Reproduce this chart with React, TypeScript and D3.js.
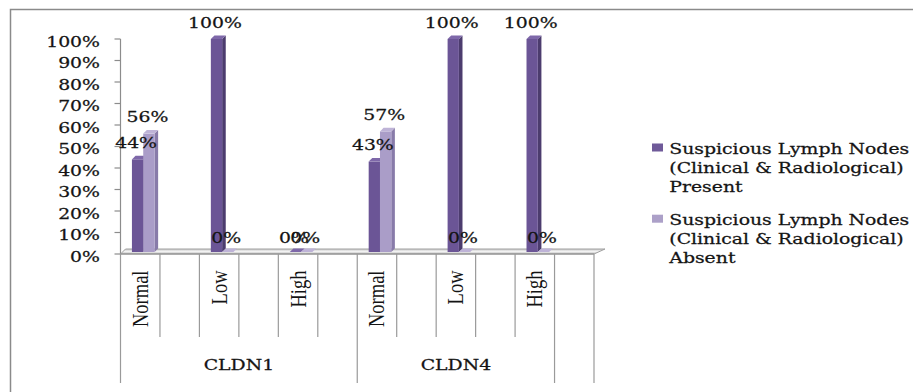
import React from "react";
import * as d3 from "d3";

// Category structure along the x axis (blank slots separate the levels)
const groups = ["CLDN1", "CLDN4", ""];
const groupSlots = [6, 5, 1];
const slotLabels = ["Normal", "", "Low", "", "High", "", "Normal", "", "Low", "", "High", ""];
const slotValueIndex = [0, -1, 1, -1, 2, -1, 3, -1, 4, -1, 5, -1];

// Series values (%) for Normal/Low/High of CLDN1 then CLDN4
const seriesNames = [
  ["Suspicious Lymph Nodes", "(Clinical & Radiological)", "Present"],
  ["Suspicious Lymph Nodes", "(Clinical & Radiological)", "Absent"],
];
const presentValues = [44, 100, 0, 43, 100, 100];
const absentValues = [56, 0, 0, 57, 0, 0];
const yTicks = [0, 10, 20, 30, 40, 50, 60, 70, 80, 90, 100];

const W = 913;
const H = 392;
const SX = 1.3; // horizontal text stretch
const FONT = "'DejaVu Serif', serif";
const ROT_FONT = "'Liberation Serif', 'Times New Roman', serif";
const INK = "#141414";

const palette = [
  { front: "#6B5596", side: "#4C3C6E", top: "#7E68A9", key: "#6F5A99" },
  { front: "#AA9DC8", side: "#887BA9", top: "#BEB3D7", key: "#ACA0C8" },
];

function T({ x, y, anchor = "middle", size = 14.5, children }: any) {
  return (
    <text
      transform={`translate(${x},${y}) scale(${SX},1)`}
      textAnchor={anchor}
      fontFamily={FONT}
      fontSize={size}
      fill={INK}
      stroke={INK}
      strokeWidth={0.25}
    >
      {children}
    </text>
  );
}

export default function App() {
  const x0 = 120.5;
  const x1 = 594;
  const yBottom = 254;
  const xSlot = d3.scaleBand<number>().domain(d3.range(slotLabels.length)).range([x0, x1]);
  const y = d3.scaleLinear().domain([0, 100]).range([yBottom, 39]);
  const inner = d3.scaleBand<number>().domain([0, 1]).range([-11.3, 11.3]);
  const series = [presentValues, absentValues];
  const ddx = 3.6;
  const ddy = -3.6;
  const base = yBottom - 2;

  const bars: any[] = [];
  const labels: any[] = [];
  slotLabels.forEach((_, s) => {
    const vi = slotValueIndex[s];
    if (vi < 0) return;
    const pairCenter = (xSlot(s) as number) + xSlot.bandwidth() / 2 + 3;
    series.forEach((vals, k) => {
      const v = vals[vi];
      const bx = pairCenter + (inner(k) as number);
      const bw = inner.bandwidth();
      const top = Math.min(y(v), base);
      const c = palette[k];
      bars.push(
        <g key={`b${s}-${k}`}>
          {base - top > 0 && (
            <polygon
              points={`${bx + bw},${top} ${bx + bw + ddx},${top + ddy} ${bx + bw + ddx},${base + ddy} ${bx + bw},${base}`}
              fill={c.side}
            />
          )}
          {base - top > 0 && <rect x={bx} y={top} width={bw} height={base - top} fill={c.front} />}
          <polygon
            points={`${bx},${top} ${bx + ddx},${top + ddy} ${bx + bw + ddx},${top + ddy} ${bx + bw},${top}`}
            fill={c.top}
          />
        </g>
      );
      labels.push(
        <T key={`l${s}-${k}`} x={bx + bw / 2 - 1.5} y={y(v) - 11.5}>
          {`${v}%`}
        </T>
      );
    });
  });

  // slot boundaries: inner ones are short, group boundaries run longer
  const groupEdges = new Set<number>([0]);
  let acc = 0;
  groupSlots.forEach((n) => {
    acc += n;
    groupEdges.add(acc);
  });
  const bounds = d3.range(slotLabels.length + 1);

  const groupSpans: [number, number][] = [];
  let start = 0;
  groupSlots.forEach((n) => {
    groupSpans.push([start, start + n]);
    start += n;
  });
  const edgeX = (i: number) => (i === slotLabels.length ? x1 : (xSlot(i) as number));

  return (
    <svg width={W} height={H} style={{ position: "absolute", left: 0, top: 0, background: "#fff" }}>
      <rect x={10.5} y={9.5} width={1000} height={600} fill="#fff" stroke="#8a8a8a" strokeWidth={1.5} />

      {/* y axis */}
      <line x1={x0} x2={x0} y1={y(100)} y2={yBottom} stroke="#8c8c8c" strokeWidth={1.2} />
      {yTicks.map((t) => (
        <g key={t}>
          <line x1={x0 - 6} x2={x0} y1={y(t)} y2={y(t)} stroke="#8c8c8c" strokeWidth={1.2} />
          <T x={100} y={y(t) + 7.6} anchor="end">{`${t}%`}</T>
        </g>
      ))}

      {/* floor */}
      <defs>
        <linearGradient id="floorGrad" x1="0" y1="0" x2="0" y2="1">
          <stop offset="0" stopColor="#c8c8c8" />
          <stop offset="0.5" stopColor="#f2f2f2" />
          <stop offset="1" stopColor="#bdbdbd" />
        </linearGradient>
      </defs>
      <polygon
        points={`${x0},${yBottom} ${x0 + 5},${yBottom - 5} ${x1 + 11},${yBottom - 5} ${x1},${yBottom}`}
        fill="url(#floorGrad)"
        stroke="#a0a0a0"
        strokeWidth={1}
      />
      <line x1={x0} x2={x1} y1={yBottom} y2={yBottom} stroke="#8c8c8c" strokeWidth={1.2} />

      {/* category separators */}
      {bounds.map((i) => (
        <line
          key={`sep${i}`}
          x1={edgeX(i)}
          x2={edgeX(i)}
          y1={yBottom}
          y2={groupEdges.has(i) ? 383 : 337}
          stroke="#9a9a9a"
          strokeWidth={1.2}
        />
      ))}

      {bars}
      {labels}

      {/* level labels, rotated */}
      {slotLabels.map((lab, s) =>
        lab ? (
          <text
            key={`sl${s}`}
            transform={`translate(${(xSlot(s) as number) + xSlot.bandwidth() / 2 + 7.5},${270.5}) scale(1.22,1) rotate(-90)`}
            textAnchor="end"
            fontFamily={ROT_FONT}
            fontSize={18.5}
            fill={INK}
          >
            {lab}
          </text>
        ) : null
      )}

      {/* group labels */}
      {groups.map((g, i) =>
        g ? (
          <T key={g} x={(edgeX(groupSpans[i][0]) + edgeX(groupSpans[i][1])) / 2} y={369.5}>
            {g}
          </T>
        ) : null
      )}

      {/* legend */}
      {seriesNames.map((lines, k) => {
        const by = 153.5 + k * 71.2;
        return (
          <g key={`lg${k}`}>
            <rect x={652} y={by - 10} width={11} height={8} fill={palette[k].key} />
            {lines.map((ln, j) => (
              <T key={j} x={669.3} y={by + j * 19} anchor="start">
                {ln}
              </T>
            ))}
          </g>
        );
      })}
    </svg>
  );
}
